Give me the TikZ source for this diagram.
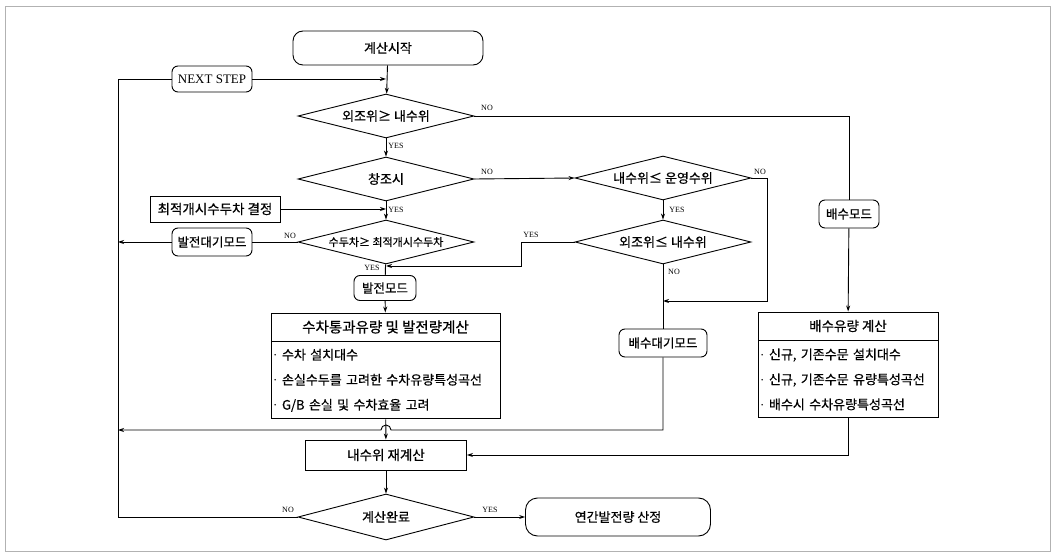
\documentclass[tikz,border=0pt]{standalone}
\usepackage{fontspec}
\setmainfont{Liberation Serif}
\newfontfamily\kr[FakeBold=0.6]{Noto Sans CJK KR}
\usetikzlibrary{shapes.geometric,arrows.meta}
\newcommand{\itm}{\makebox[9pt][l]{\rmfamily ·}}
\tikzset{
  flow/.style={draw, line width=0.9pt},
  arr/.style={flow, -{Stealth[length=6pt,width=4pt]}},
  term/.style={draw, line width=0.9pt, rounded corners=10pt, font=\kr\fontsize{13}{15}\selectfont},
  mode/.style={draw, line width=0.9pt, rounded corners=6pt, inner sep=2pt, font=\kr\fontsize{12.5}{14}\selectfont},
  decide/.style={draw, line width=0.9pt, diamond, aspect=4, inner sep=0pt,
    minimum width=176pt, minimum height=44pt, font=\kr\fontsize{13}{15}\selectfont},
  calc/.style={draw, line width=0.9pt, inner sep=2pt, font=\kr\fontsize{13.5}{15}\selectfont},
  items/.style={calc, anchor=north, align=left, font=\kr\fontsize{13}{25}\selectfont},
  yn/.style={font=\fontsize{8}{9}\selectfont, inner sep=0pt},
}
\begin{document}
\begin{tikzpicture}[x=1pt,y=-1pt]
  \useasboundingbox (0,0) rectangle (1055,553);
  \draw[gray!60, line width=0.6pt] (5,6) rectangle (1050,551);

  % main column
  \node[term, minimum width=190pt, minimum height=34pt] (start) at (388,48) {계산시작};
  \node[mode, font=\fontsize{13}{15}\selectfont, minimum width=80pt, minimum height=26pt] (next) at (212,79) {NEXT STEP};
  \node[decide] (tide) at (386,116) {외조위≥ 내수위};
  \node[decide] (flood) at (386,179) {창조시};
  \node[calc, minimum width=130pt, minimum height=26pt] (optset) at (215,209) {최적개시수두차 결정};
  \node[decide, font=\kr\fontsize{11}{13}\selectfont] (head) at (386,242) {수두차≥ 최적개시수두차};
  \node[mode, minimum width=80pt, minimum height=28pt] (genwait) at (212,242) {발전대기모드};
  \node[mode, minimum width=62pt, minimum height=25pt] (genmode) at (385,288) {발전모드};
  \node[calc, font=\kr\fontsize{14.5}{16}\selectfont, minimum width=229pt, minimum height=28pt] (flowhead) at (385.5,327) {수차통과유량 및 발전량계산};
  \node[items, text width=225pt, minimum height=77pt] (flowbody) at (flowhead.south)
    {\itm 수차 설치대수\\ \itm 손실수두를 고려한 수차유량특성곡선\\ \itm G/B 손실 및 수차효율 고려};
  \node[calc, minimum width=161pt, minimum height=30pt] (recalc) at (386,455) {내수위 재계산};
  \node[decide, minimum height=46pt] (done) at (386,517) {계산완료};
  \node[term, minimum width=185pt, minimum height=38pt, rounded corners=12pt] (annual) at (618,517) {연간발전량 산정};

  % middle column
  \node[decide] (inner) at (663,178) {내수위≤ 운영수위};
  \node[decide] (outer) at (663,242) {외조위≤ 내수위};
  \node[mode, minimum width=88pt, minimum height=28pt] (drainwait) at (663,343) {배수대기모드};

  % right column
  \node[mode, minimum width=60pt, minimum height=28pt] (drainmode) at (849,214) {배수모드};
  \node[calc, minimum width=180pt, minimum height=28pt] (drainhead) at (848,326) {배수유량 계산};
  \node[items, text width=176pt, minimum height=77pt] (drainbody) at (drainhead.south)
    {\itm 신규, 기존수문 설치대수\\ \itm 신규, 기존수문 유량특성곡선\\ \itm 배수시 수차유량특성곡선};

  \coordinate (loopx) at (118,0);
  \coordinate (genjoin) at (386,266);
  \coordinate (innerno) at (663,301);

  % connectors
  \draw[arr] (start) -- (tide);
  \draw[arr] (next.east) -- (next -| tide);
  \draw[arr] (tide) -- (flood);
  \draw[arr] (flood) -- (head);
  \draw[arr] (optset.east) -- (optset -| flood);
  \draw[flow] (head) -- (genmode);
  \draw[arr] (genmode) -- (flowhead);
  \draw[flow] (head.west) -- (genwait.east);
  \draw[arr] (genwait.west) -- (genwait -| loopx);
  \draw[flow] (tide.east) -| (drainmode.north);
  \draw[arr] (drainmode) -- (drainhead);
  \draw[arr] (flood.east) -- (inner.west);
  \draw[arr] (inner) -- (outer);
  \draw[arr] (inner.east) -- ++(16,0) |- (innerno);
  \draw[arr] (outer.west) -- ++(-53,0) |- (genjoin);
  \draw[flow] (outer) -- (drainwait);
  \draw[arr] (drainwait.south) |- (391,430) arc[start angle=0, end angle=180, radius=5pt] -- (loopx |- 0,430);
  \draw[arr] (flowbody) -- (recalc);
  \draw[arr] (drainbody.south) |- (recalc.east);
  \draw[arr] (recalc) -- (done);
  \draw[arr] (done) -- (annual);
  \draw[flow] (done.west) -- (done -| loopx) -- (loopx |- next) -- (next.west);

  % branch labels
  \node[yn] at (487,108) {NO};
  \node[yn] at (396,146) {YES};
  \node[yn] at (487,172) {NO};
  \node[yn] at (396,210) {YES};
  \node[yn] at (290,236) {NO};
  \node[yn] at (372,268) {YES};
  \node[yn] at (760,172) {NO};
  \node[yn] at (677,210) {YES};
  \node[yn] at (531,235) {YES};
  \node[yn] at (674,272) {NO};
  \node[yn] at (288,510) {NO};
  \node[yn] at (490,510) {YES};
\end{tikzpicture}
\end{document}
